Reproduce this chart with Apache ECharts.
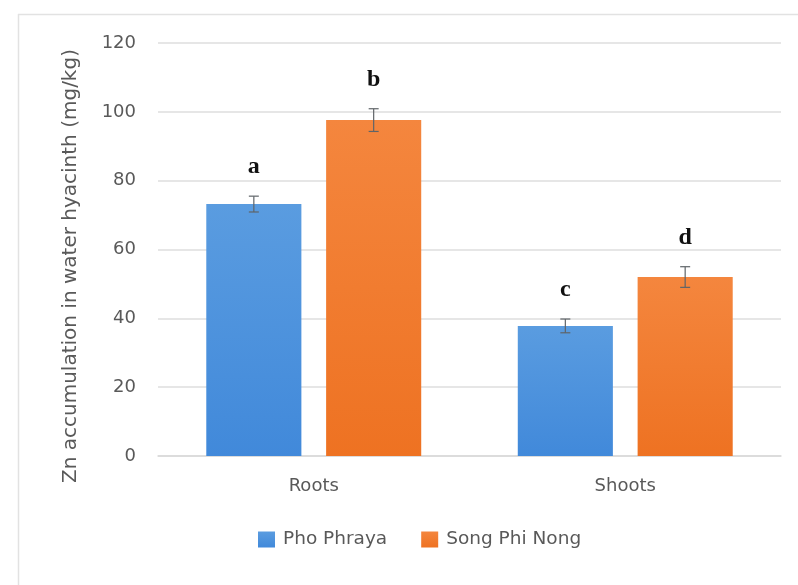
<!DOCTYPE html>
<html>
<head>
<meta charset="utf-8">
<script src="https://cdn.jsdelivr.net/npm/echarts@6/dist/echarts.min.js"></script>
<style>
  html, body { margin: 0; padding: 0; background: #ffffff; }
  #chart { width: 798px; height: 585px; }
</style>
</head>
<body>
<div id="chart"></div>
<script>
// Plant parts on the x axis
const categories = ['Roots', 'Shoots'];
// Sampling sites (legend order)
const seriesNames = ['Pho Phraya', 'Song Phi Nong'];
// Mean Zn accumulation (mg/kg) per site
const phoPhraya = [73.2, 37.8];
const songPhiNong = [97.6, 52.0];
// Standard errors per site
const phoPhrayaErr = [2.3, 2.0];
const songPhiNongErr = [3.3, 3.0];
// Significance letters per site
const phoPhrayaLetters = ['a', 'c'];
const songPhiNongLetters = ['b', 'd'];
// Y axis ticks
const yMin = 0, yMax = 120, yStep = 20;

const colors = ['#4a90dc', '#f07a2a'];
const barCategoryGap = 0.31;
const barGap = 0.26;

const chart = echarts.init(document.getElementById('chart'));

function barGradient(c, light) {
  return new echarts.graphic.LinearGradient(0, 0, 0, 1, [
    { offset: 0, color: light },
    { offset: 1, color: c }
  ]);
}

// Error bar + significance letter for one series, placed over its bar in the group
function errorSeries(idx, means, errs, letters) {
  const data = means.map((m, i) => [i, m, errs[i], letters[i]]);
  return {
    type: 'custom',
    name: seriesNames[idx] + ' error',
    z: 5,
    silent: true,
    renderItem: function (params, api) {
      const ci = api.value(0);
      const mean = api.value(1);
      const err = api.value(2);
      const letter = data[params.dataIndex][3];
      const band = api.size([1, 0])[0];
      const bw = band * (1 - barCategoryGap) / (2 + barGap);
      const total = bw * 2 + bw * barGap;
      const offset = -total / 2 + bw / 2 + idx * bw * (1 + barGap);
      const hi = api.coord([ci, mean + err]);
      const lo = api.coord([ci, mean - err]);
      const x = hi[0] + offset;
      const cap = 5;
      const style = { stroke: '#5f6468', lineWidth: 1.2 };
      return {
        type: 'group',
        children: [
          { type: 'line', shape: { x1: x, y1: hi[1], x2: x, y2: lo[1] }, style: style },
          { type: 'line', shape: { x1: x - cap, y1: hi[1], x2: x + cap, y2: hi[1] }, style: style },
          { type: 'line', shape: { x1: x - cap, y1: lo[1], x2: x + cap, y2: lo[1] }, style: style },
          {
            type: 'text',
            style: {
              text: letter,
              x: x,
              y: hi[1] - 29,
              align: 'center',
              verticalAlign: 'middle',
              font: 'bold 24px "Liberation Serif", "DejaVu Serif", serif',
              fill: '#111111'
            }
          }
        ]
      };
    },
    data: data
  };
}

const axisFont = '"DejaVu Sans", "Noto Sans", sans-serif';

chart.setOption({
  backgroundColor: '#ffffff',
  animation: false,
  color: colors,
  graphic: [
    { type: 'line', shape: { x1: 18, y1: 14.5, x2: 798, y2: 14.5 }, style: { stroke: '#e2e2e2', lineWidth: 1.5 } },
    { type: 'line', shape: { x1: 18.5, y1: 14, x2: 18.5, y2: 585 }, style: { stroke: '#e2e2e2', lineWidth: 1.5 } },
    {
      type: 'text',
      x: 71, y: 266,
      rotation: Math.PI / 2,
      style: {
        text: 'Zn accumulation in water hyacinth (mg/kg)',
        align: 'center',
        verticalAlign: 'middle',
        font: '20px ' + axisFont,
        fill: '#595959'
      }
    }
  ],
  grid: { left: 158, right: 17, top: 43, bottom: 129 },
  legend: {
    data: seriesNames,
    bottom: 31,
    left: 253,
    itemWidth: 17,
    itemHeight: 16,
    itemGap: 34,
    icon: 'rect',
    textStyle: { fontSize: 18.5, color: '#595959', fontFamily: axisFont, padding: [0, 0, 0, 3] }
  },
  xAxis: {
    type: 'category',
    data: categories,
    axisTick: { show: false },
    axisLine: { lineStyle: { color: '#d9d9d9', width: 1.5 } },
    axisLabel: { fontSize: 18, color: '#595959', fontFamily: axisFont, margin: 21 }
  },
  yAxis: {
    type: 'value',
    min: yMin, max: yMax, interval: yStep,
    axisLine: { show: false },
    axisTick: { show: false },
    axisLabel: { fontSize: 18, color: '#595959', fontFamily: axisFont, margin: 22 },
    splitLine: { lineStyle: { color: '#dedede', width: 1.5 } }
  },
  series: [
    {
      name: seriesNames[0],
      type: 'bar',
      data: phoPhraya,
      barGap: (barGap * 100) + '%',
      barCategoryGap: (barCategoryGap * 100) + '%',
      itemStyle: { color: barGradient('#4189da', '#5a9ce0') }
    },
    {
      name: seriesNames[1],
      type: 'bar',
      data: songPhiNong,
      itemStyle: { color: barGradient('#ee7222', '#f4863e') }
    },
    errorSeries(0, phoPhraya, phoPhrayaErr, phoPhrayaLetters),
    errorSeries(1, songPhiNong, songPhiNongErr, songPhiNongLetters)
  ]
});
</script>
</body>
</html>
